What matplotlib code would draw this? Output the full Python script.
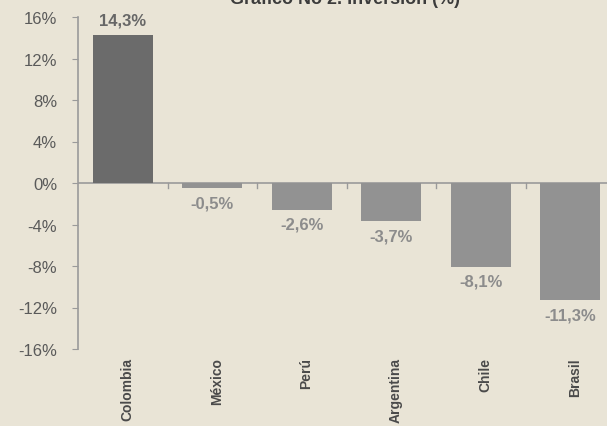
import matplotlib
matplotlib.use("Agg")
import matplotlib.pyplot as plt
import numpy as np

countries = ["Colombia", "México", "Perú", "Argentina", "Chile", "Brasil"]
values = [14.3, -0.5, -2.6, -3.7, -8.1, -11.3]
labels = ["14,3%", "-0,5%", "-2,6%", "-3,7%", "-8,1%", "-11,3%"]
yticks = [-16, -12, -8, -4, 0, 4, 8, 12, 16]
title = "Gráfico No 2. Inversión (%)"

BG = "#e9e4d6"
DARK = "#6b6b6b"
LIGHT = "#929292"
TEXT = "#5a5a5a"

plt.rcParams["font.family"] = ["Liberation Sans", "DejaVu Sans"]

fig = plt.figure(figsize=(6.07, 4.27), dpi=100, facecolor=BG)
# axes runs past the right edge, like the cropped scan
ax = fig.add_axes([78 / 607, 1 - 350 / 427, 537 / 607, 332 / 427])
ax.set_facecolor(BG)

x = np.arange(len(countries))
colors = [DARK] + [LIGHT] * (len(countries) - 1)
ax.bar(x, values, width=0.67, color=colors, zorder=2)

for xi, v, lab in zip(x, values, labels):
    if v >= 0:
        ax.annotate(lab, (xi, v), xytext=(0, 5), textcoords="offset points",
                    ha="center", va="bottom", fontsize=12, fontweight="bold", color="#676767")
    else:
        ax.annotate(lab, (xi, v), xytext=(0, -5), textcoords="offset points",
                    ha="center", va="top", fontsize=12, fontweight="bold", color="#8c8c8c")

ax.set_xlim(-0.5, len(countries) - 0.5)
ax.set_ylim(-16, 16)
ax.set_yticks(yticks)
ax.set_yticklabels([f"{t}%" for t in yticks], fontsize=12, color=TEXT)
ax.tick_params(axis="y", direction="out", length=4, pad=11, color="#9a9a9a")

# zero line with small ticks at category boundaries
ax.axhline(0, color="#9a9a9a", lw=1.2, zorder=1)
for b in np.arange(0.5, len(countries) - 0.5, 1.0):
    ax.plot([b, b], [0, -0.45], color="#9a9a9a", lw=1, zorder=1)

ax.set_xticks(x + 0.05)
ax.set_xticklabels(countries, rotation=90, fontsize=10, fontweight="bold",
                   color="#4a4a4a", va="top")
ax.tick_params(axis="x", length=0, pad=6)

for s in ["top", "right", "bottom"]:
    ax.spines[s].set_visible(False)
ax.spines["left"].set_color("#9a9a9a")
ax.spines["left"].set_linewidth(1.2)

fig.text(345 / 607, 1 - 4 / 427, title, ha="center", va="baseline",
         fontsize=13, fontweight="bold", color="#3c3c3c")

fig.savefig("out.png", dpi=100, facecolor=BG)
